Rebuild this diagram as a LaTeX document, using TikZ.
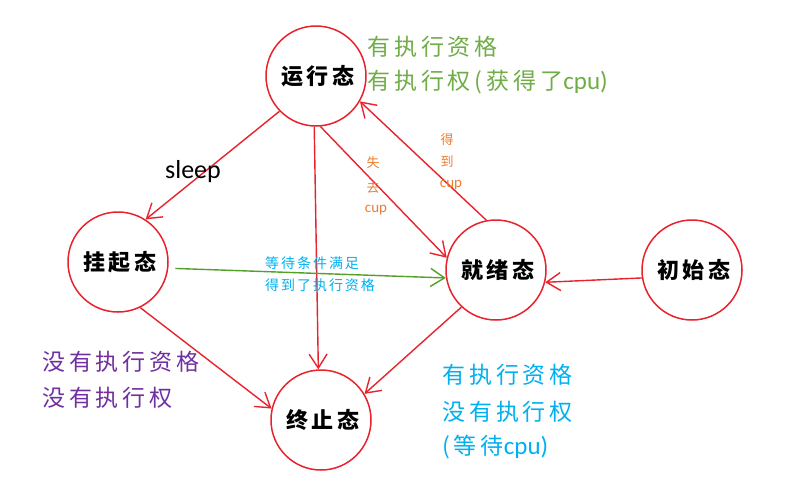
\documentclass[tikz,border=0pt]{standalone}
\usepackage{fontspec}
\usetikzlibrary{arrows.meta,calc}
\newfontfamily\cjkL[LetterSpace=17]{Noto Sans CJK SC}
\newfontfamily\cjkN[LetterSpace=18]{Noto Sans CJK SC}
\newfontfamily\cjkS[LetterSpace=14]{Noto Sans CJK SC}
\newfontfamily\cjkO{Noto Sans CJK SC}
\newfontfamily\latin{Carlito}
\definecolor{cred}{RGB}{232,35,45}
\definecolor{cgreen}{RGB}{112,173,71}
\definecolor{carrow}{RGB}{84,160,40}
\definecolor{cpurple}{RGB}{112,48,160}
\definecolor{cblue}{RGB}{0,176,240}
\definecolor{corange}{RGB}{237,125,49}
\begin{document}
\begin{tikzpicture}[x=1pt,y=-1pt,
  state/.style={circle,draw=cred,line width=1.5pt,minimum size=100pt,inner sep=0pt,
    font=\cjkN\bfseries\fontsize{22}{26}\selectfont},
  conn/.style={draw=cred,line width=1.4pt,-{Straight Barb[length=14pt,width=18pt,line width=1.4pt]}},
  big/.style={anchor=west,inner sep=0pt,font=\cjkL\fontsize{23}{26}\selectfont},
  small/.style={anchor=west,inner sep=0pt,text=cblue,font=\cjkS\fontsize{14}{16}\selectfont},
  orlab/.style={inner sep=0pt,text=corange,font=\cjkO\fontsize{13}{15}\selectfont},
  orcup/.style={inner sep=0pt,text=corange,font=\latin\fontsize{15}{17}\selectfont}]
\useasboundingbox (0,0) rectangle (794,496);
\fill[white] (0,0) rectangle (794,496);

\node[state] (R) at (316,76) {运行态\kern-4pt};
\node[state] (G) at (118,262) {挂起态\kern-4pt};
\node[state] (J) at (496,270) {就绪态\kern-4pt};
\node[state] (C) at (692,270) {初始态\kern-4pt};
\node[state] (Z) at (321,420) {终止态\kern-4pt};

\draw[conn] (R.224) -- (G.57);
\draw[conn] (R.-92) -- (Z.93);
\draw[conn] (R.-85) -- (J.166);
\draw[conn] (J.101) -- (R.-30);
\draw[conn,draw=carrow,shorten <=7pt] (G.-7) -- (J.189);
\draw[conn] (G.-64) -- (Z.167);
\draw[conn] (J.-133) -- (Z.31);
\draw[conn] (C.189) -- (J.-14);

\node[inner sep=0pt,font=\latin\fontsize{26}{30}\selectfont] (sl) at (193,172) {sleep};

\node[big,text=cgreen] (g1) at (367,47) {有执行资格};
\node[big,text=cgreen] (g2) at (367,82) {有执行权(获得了{\latin\fontsize{25}{28}\selectfont cpu)}};

\node[big,text=cpurple] (p1) at (42,362) {没有执行资格};
\node[big,text=cpurple] (p2) at (42,398) {没有执行权};

\node[big,text=cblue] (b1) at (442,375) {有执行资格};
\node[big,text=cblue] (b2) at (442,412) {没有执行权};
\node[big,text=cblue] (b3) at (442,447) {(等待{\latin\fontsize{25}{28}\selectfont cpu)}};

\node[small] (s1) at (265,263) {等待条件满足};
\node[small] (s2) at (265,285) {得到了执行资格};

\node[orlab] (o1) at (373,163) {失};
\node[orlab] (o2) at (373,187) {去};
\node[orcup] (o3) at (376,210) {cup};
\node[orlab] (o4) at (447,140) {得};
\node[orlab] (o5) at (447,162) {到};
\node[orcup] (o6) at (451,185) {cup};
\end{tikzpicture}
\end{document}
